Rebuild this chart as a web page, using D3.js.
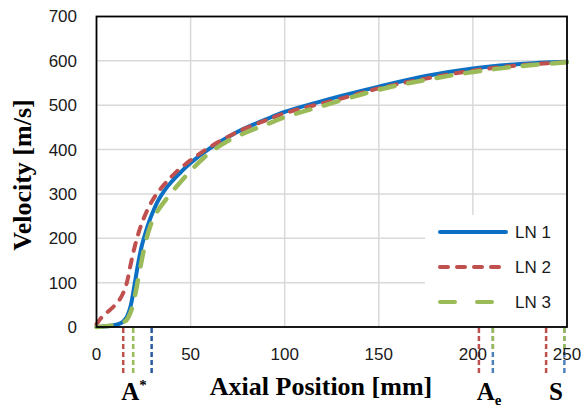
<!DOCTYPE html>
<html>
<head>
<meta charset="utf-8">
<script src="https://cdn.jsdelivr.net/npm/d3@7"></script>
<style>
	body { margin: 0; background: #fff; }
	text { font-family: "Liberation Sans", Arial, sans-serif; }
	.title { font-family: "Liberation Serif", "Times New Roman", serif; font-weight: bold; }
</style>
</head>
<body>
<svg id="chart" width="588" height="407"></svg>
<script>
var xTicks = [0, 50, 100, 150, 200, 250];
var yTicks = [0, 100, 200, 300, 400, 500, 600, 700];

var ln1X = [0, 4, 8, 12, 14, 16, 18, 20, 22, 24, 26, 28, 30, 33, 36, 40, 45, 50, 60, 75, 90, 100, 117, 130, 150, 175, 200, 225, 250];
var ln1V = [0, 1, 3, 7, 12, 22, 45, 90, 140, 182, 212, 238, 260, 287, 307, 328, 350, 370, 402, 440, 468, 485, 506, 521, 542, 566, 583, 593, 598];

var ln2X = [0, 2, 4, 7, 10, 12, 14, 16, 18, 20, 22, 24, 26, 29, 33, 37, 42, 50, 60, 75, 90, 100, 130, 150, 175, 200, 225, 250];
var ln2V = [6, 18, 27, 38, 50, 60, 75, 98, 138, 176, 207, 233, 254, 280, 306, 326, 348, 376, 405, 440, 466, 482, 515, 538, 560, 578, 590, 597];

var ln3X = [0, 5, 10, 14, 16, 18, 20, 22, 24, 26, 28, 30, 33, 37, 42, 50, 58, 70, 94, 100, 119, 150, 175, 200, 225, 250];
var ln3V = [0, 2, 5, 10, 16, 32, 62, 105, 150, 190, 220, 243, 265, 288, 314, 352, 385, 420, 463, 473, 497, 535, 557, 575, 588, 597];

var seriesNames = ["LN 1", "LN 2", "LN 3"];
var seriesColors = ["#0b70c4", "#c0504d", "#9bbb59"];

// marker positions under the axis (throat, exit, shock)
var markerX = [14.2, 19.5, 29.3, 203.2, 210.6, 238.9, 248.6];
var markerColors = ["#c0504d", "#9bbb59", "#2c5a9e", "#c0504d", "#4f81bd", "#c0504d", "#4f81bd"];
var markerLabels = ["A", "A", "S"];
var markerLabelX = [134, 489, 556];

var margin = { left: 96.5, right: 21, top: 16.5, bottom: 80 };
var width = 588;
var height = 407;

function init() {
	draw();
}

function draw() {
	var svg = d3.select("#chart");
	var x = d3.scaleLinear().domain([0, 250]).range([margin.left, width - margin.right]);
	var y = d3.scaleLinear().domain([0, 700]).range([height - margin.bottom, margin.top]);

	drawGrid(svg, x, y);
	drawLegendBox(svg);
	drawSeries(svg, x, y);
	drawFrame(svg, x, y);
	drawMarkers(svg, x, y);
	drawAxes(svg, x, y);
	drawLegend(svg);
}

function drawGrid(svg, x, y) {
	svg.selectAll("line.hgrid")
		.data(yTicks.slice(1, -1))
		.enter()
		.append("line")
		.attr("class", "hgrid")
		.attr("x1", x(0))
		.attr("x2", x(250))
		.attr("y1", function(d) { return y(d); })
		.attr("y2", function(d) { return y(d); })
		.attr("stroke", "#d9d9d9")
		.attr("stroke-width", 1.5);
	svg.selectAll("line.vgrid")
		.data(xTicks.slice(1, -1))
		.enter()
		.append("line")
		.attr("class", "vgrid")
		.attr("x1", function(d) { return x(d); })
		.attr("x2", function(d) { return x(d); })
		.attr("y1", y(0))
		.attr("y2", y(700))
		.attr("stroke", "#d9d9d9")
		.attr("stroke-width", 1.5);
}

function drawLegendBox(svg) {
	svg.append("rect")
		.attr("x", 425)
		.attr("y", 215)
		.attr("width", 141)
		.attr("height", 111)
		.attr("fill", "#fff");
}

function seriesData(xs, vs) {
	var result = new Array();
	for (var ii = 0; ii < xs.length; ++ii) {
		result.push({ x: xs[ii], v: vs[ii] });
	}
	return result;
}

function drawSeries(svg, x, y) {
	var line = d3.line()
		.x(function(d) { return x(d.x); })
		.y(function(d) { return y(d.v); })
		.curve(d3.curveCatmullRom.alpha(0.5));
	var all = [seriesData(ln1X, ln1V), seriesData(ln2X, ln2V), seriesData(ln3X, ln3V)];
	var dashes = [null, "8,9", "15,14"];
	for (var ii = 0; ii < all.length; ++ii) {
		svg.append("path")
			.datum(all[ii])
			.attr("d", line)
			.attr("fill", "none")
			.attr("stroke", seriesColors[ii])
			.attr("stroke-width", ii == 2 ? 4.5 : 4)
			.attr("stroke-linecap", "round")
			.attr("stroke-dasharray", dashes[ii]);
	}
}

function drawFrame(svg, x, y) {
	svg.append("rect")
		.attr("x", x(0))
		.attr("y", y(700))
		.attr("width", x(250) - x(0))
		.attr("height", y(0) - y(700))
		.attr("fill", "none")
		.attr("stroke", "#000")
		.attr("stroke-width", 1.8);
}

function drawMarkers(svg, x, y) {
	svg.selectAll("line.marker")
		.data(markerX)
		.enter()
		.append("line")
		.attr("class", "marker")
		.attr("x1", function(d) { return x(d); })
		.attr("x2", function(d) { return x(d); })
		.attr("y1", y(0) + 1)
		.attr("y2", 375)
		.attr("stroke", function(d, i) { return markerColors[i]; })
		.attr("stroke-width", 2.5)
		.attr("stroke-dasharray", "5,3");
	// green markers drawn over the blue ones at the exit and shock
	svg.selectAll("line.marker2")
		.data([markerX[4], markerX[6]])
		.enter()
		.append("line")
		.attr("class", "marker2")
		.attr("x1", function(d) { return x(d); })
		.attr("x2", function(d) { return x(d); })
		.attr("y1", y(0) + 1)
		.attr("y2", 350)
		.attr("stroke", "#9bbb59")
		.attr("stroke-width", 2.5)
		.attr("stroke-dasharray", "5,3");

	var labels = svg.selectAll("text.mlabel")
		.data(markerLabels)
		.enter()
		.append("text")
		.attr("class", "title mlabel")
		.attr("x", function(d, i) { return markerLabelX[i]; })
		.attr("y", 400)
		.attr("text-anchor", "middle")
		.attr("font-size", 25);
	labels.append("tspan").text(function(d) { return d; });
	labels.filter(function(d, i) { return i == 0; })
		.append("tspan")
		.attr("dy", -10)
		.attr("font-size", 15)
		.text("*");
	labels.filter(function(d, i) { return i == 1; })
		.append("tspan")
		.attr("dy", 5)
		.attr("font-size", 15)
		.text("e");
}

function drawAxes(svg, x, y) {
	svg.selectAll("text.ytick")
		.data(yTicks)
		.enter()
		.append("text")
		.attr("class", "ytick")
		.attr("x", 77)
		.attr("y", function(d) { return y(d); })
		.attr("dy", "0.35em")
		.attr("text-anchor", "end")
		.attr("font-size", 17)
		.attr("fill", "#1a1a1a")
		.text(function(d) { return d; });
	svg.selectAll("text.xtick")
		.data(xTicks)
		.enter()
		.append("text")
		.attr("class", "xtick")
		.attr("x", function(d) { return x(d); })
		.attr("y", 354)
		.attr("dy", "0.35em")
		.attr("text-anchor", "middle")
		.attr("font-size", 17)
		.attr("fill", "#1a1a1a")
		.text(function(d) { return d; });

	svg.append("text")
		.attr("class", "title")
		.attr("x", 321)
		.attr("y", 395)
		.attr("text-anchor", "middle")
		.attr("font-size", 26)
		.text("Axial Position [mm]");
	svg.append("text")
		.attr("class", "title")
		.attr("transform", "translate(31,175) rotate(-90)")
		.attr("text-anchor", "middle")
		.attr("font-size", 26)
		.text("Velocity [m/s]");
}

function drawLegend(svg) {
	var rowY = [232, 267, 302];
	var dashes = [null, "8,9", "15,22"];
	for (var ii = 0; ii < seriesNames.length; ++ii) {
		svg.append("line")
			.attr("x1", 440)
			.attr("x2", 506)
			.attr("y1", rowY[ii])
			.attr("y2", rowY[ii])
			.attr("stroke", seriesColors[ii])
			.attr("stroke-width", 4)
			.attr("stroke-linecap", "round")
			.attr("stroke-dasharray", dashes[ii]);
		svg.append("text")
			.attr("x", 515)
			.attr("y", rowY[ii])
			.attr("dy", "0.35em")
			.attr("font-size", 17)
			.attr("fill", "#1a1a1a")
			.text(seriesNames[ii]);
	}
}

init();
</script>
</body>
</html>
